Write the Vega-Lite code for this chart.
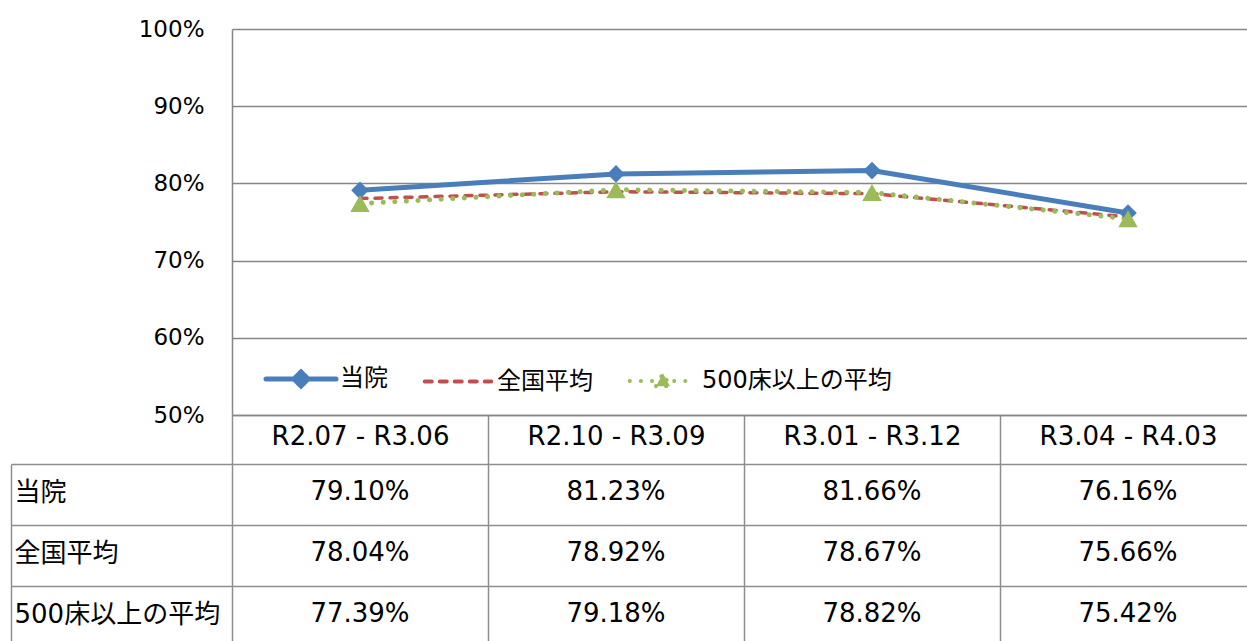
{
  "$schema": "https://vega.github.io/schema/vega-lite/v6.json",
  "padding": {"left": 10, "top": 18, "right": 0, "bottom": 0},
  "background": "white",
  "config": {
    "font": "DejaVu Sans, Noto Sans CJK JP",
    "view": {"stroke": null},
    "axis": {"labelColor": "#000000", "labelFont": "DejaVu Sans, Noto Sans CJK JP", "titleFont": "DejaVu Sans, Noto Sans CJK JP"},
    "legend": {"labelFont": "DejaVu Sans, Noto Sans CJK JP"}
  },
  "datasets": {
    "d": [
      {"period": "R2.07 - R3.06", "series": "当院", "value": 0.7910},
      {"period": "R2.10 - R3.09", "series": "当院", "value": 0.8123},
      {"period": "R3.01 - R3.12", "series": "当院", "value": 0.8166},
      {"period": "R3.04 - R4.03", "series": "当院", "value": 0.7616},
      {"period": "R2.07 - R3.06", "series": "全国平均", "value": 0.7804},
      {"period": "R2.10 - R3.09", "series": "全国平均", "value": 0.7892},
      {"period": "R3.01 - R3.12", "series": "全国平均", "value": 0.7867},
      {"period": "R3.04 - R4.03", "series": "全国平均", "value": 0.7566},
      {"period": "R2.07 - R3.06", "series": "500床以上の平均", "value": 0.7739},
      {"period": "R2.10 - R3.09", "series": "500床以上の平均", "value": 0.7918},
      {"period": "R3.01 - R3.12", "series": "500床以上の平均", "value": 0.7882},
      {"period": "R3.04 - R4.03", "series": "500床以上の平均", "value": 0.7542}
    ]
  },
  "spacing": 49,
  "bounds": "flush",
  "vconcat": [
    {
      "width": 1024,
      "height": 386,
      "data": {"name": "d"},
      "encoding": {
        "x": {
          "field": "period", "type": "nominal", "sort": null,
          "scale": {"type": "band", "domain": ["R2.07 - R3.06", "R2.10 - R3.09", "R3.01 - R3.12", "R3.04 - R4.03"], "paddingInner": 0, "paddingOuter": 0},
          "axis": {"title": null, "orient": "bottom", "grid": false, "tickBand": "extent", "ticks": true, "tickSize": 49, "tickColor": "#8e8e8e", "tickWidth": 1.5, "domain": true, "domainColor": "#868686", "domainWidth": 1.5, "labelFontSize": 26, "labelAngle": 0, "labelBaseline": "middle", "labelPadding": -28, "labelColor": "#000000"}
        },
        "y": {
          "field": "value", "type": "quantitative",
          "scale": {"domain": [0.5, 1], "nice": false, "zero": false},
          "axis": {"title": null, "values": [0.5, 0.6, 0.7, 0.8, 0.9, 1.0], "format": ".0%", "grid": true, "gridColor": "#868686", "gridWidth": 1.5, "ticks": false, "domain": true, "domainColor": "#868686", "domainWidth": 1.5, "labelFontSize": 23, "labelPadding": 28, "labelColor": "#000000"}
        },
        "color": {
          "field": "series", "type": "nominal",
          "scale": {"domain": ["当院", "全国平均", "500床以上の平均"], "range": ["#4A7EBB", "#C0504D", "#9BBB59"]},
          "legend": {
            "title": null, "orient": "none", "direction": "horizontal", "columns": 3,
            "legendX": 57, "legendY": 338, "padding": 0,
            "symbolSize": 4900, "symbolStrokeWidth": 4, "labelFontSize": 24, "labelColor": "#000000", "labelOffset": 27, "columnPadding": 28, "labelLimit": 400,
            "encode": {
              "symbols": {
                "update": {
                  "shape": {"signal": "datum.value === '当院' ? 'M-1,0H1M-0.2,0L0,-0.2L0.2,0L0,0.2Z' : datum.value === '全国平均' ? 'M-0.95,0H0.95' : 'M-0.95,0H0.95M-0.2,0.15L0,-0.22L0.2,0.15Z'"},
                  "strokeDash": {"signal": "datum.value === '全国平均' ? [7, 8] : datum.value === '500床以上の平均' ? [0.1, 11] : [1, 0]"},
                  "strokeWidth": {"signal": "datum.value === '当院' ? 5 : 4"},
                  "strokeCap": {"value": "round"},
                  "fill": {"signal": "scale('color', datum.value)"},
                  "fillOpacity": {"value": 1},
                  "stroke": {"signal": "scale('color', datum.value)"},
                  "opacity": {"value": 1}
                }
              }
            }
          }
        }
      },
      "layer": [
        {"transform": [{"filter": "datum.series === '全国平均'"}], "mark": {"type": "line", "strokeWidth": 3.5, "strokeDash": [7, 8], "strokeCap": "round"}},
        {"transform": [{"filter": "datum.series === '500床以上の平均'"}], "mark": {"type": "line", "strokeWidth": 5, "strokeDash": [0.1, 11.5], "strokeCap": "round"}},
        {"transform": [{"filter": "datum.series === '当院'"}], "mark": {"type": "line", "strokeWidth": 5}},
        {"transform": [{"filter": "datum.series === '当院'"}], "mark": {"type": "point", "shape": "diamond", "filled": true, "size": 310, "opacity": 1}},
        {"transform": [{"filter": "datum.series === '500床以上の平均'"}], "mark": {"type": "point", "shape": "triangle-up", "filled": true, "size": 380, "opacity": 1}}
      ]
    },
    {
      "width": 1024,
      "height": 183,
      "data": {"name": "d"},
      "encoding": {
        "x": {
          "field": "period", "type": "nominal", "sort": null,
          "scale": {"type": "band", "domain": ["R2.07 - R3.06", "R2.10 - R3.09", "R3.01 - R3.12", "R3.04 - R4.03"], "paddingInner": 0, "paddingOuter": 0},
          "axis": {"title": null, "orient": "bottom", "labels": false, "ticks": false, "domain": false, "grid": true, "tickBand": "extent", "gridColor": "#8e8e8e", "gridWidth": 1.5}
        }
      },
      "layer": [
        {
          "mark": {"type": "text", "fontSize": 26, "baseline": "middle", "align": "center", "dy": -3, "color": "#000000"},
          "encoding": {
            "y": {
              "field": "series", "type": "nominal", "sort": null,
              "scale": {"type": "band", "domain": ["当院", "全国平均", "500床以上の平均"], "paddingInner": 0, "paddingOuter": 0},
              "axis": {"title": null, "orient": "left", "domain": false, "grid": true, "gridColor": "#8e8e8e", "gridWidth": 1.5, "tickBand": "extent", "ticks": true, "tickSize": 221, "tickColor": "#8e8e8e", "tickWidth": 1.5, "labelAlign": "left", "labelBaseline": "middle", "labelPadding": -3, "labelFontSize": 26, "labelLimit": 400, "labelColor": "#000000", "labelOffset": -2}
            },
            "text": {"field": "value", "type": "quantitative", "format": ".2%"}
          }
        },
        {
          "mark": {"type": "rect", "opacity": 0},
          "encoding": {
            "y": {
              "field": "series", "type": "nominal", "sort": null,
              "scale": {"type": "band", "domain": ["当院", "全国平均", "500床以上の平均"], "paddingInner": 0, "paddingOuter": 0},
              "axis": {"title": null, "orient": "left", "offset": 221, "labels": false, "ticks": false, "grid": false, "domain": true, "domainColor": "#8e8e8e", "domainWidth": 1.5}
            }
          }
        }
      ],
      "resolve": {"axis": {"y": "independent"}}
    }
  ]
}
